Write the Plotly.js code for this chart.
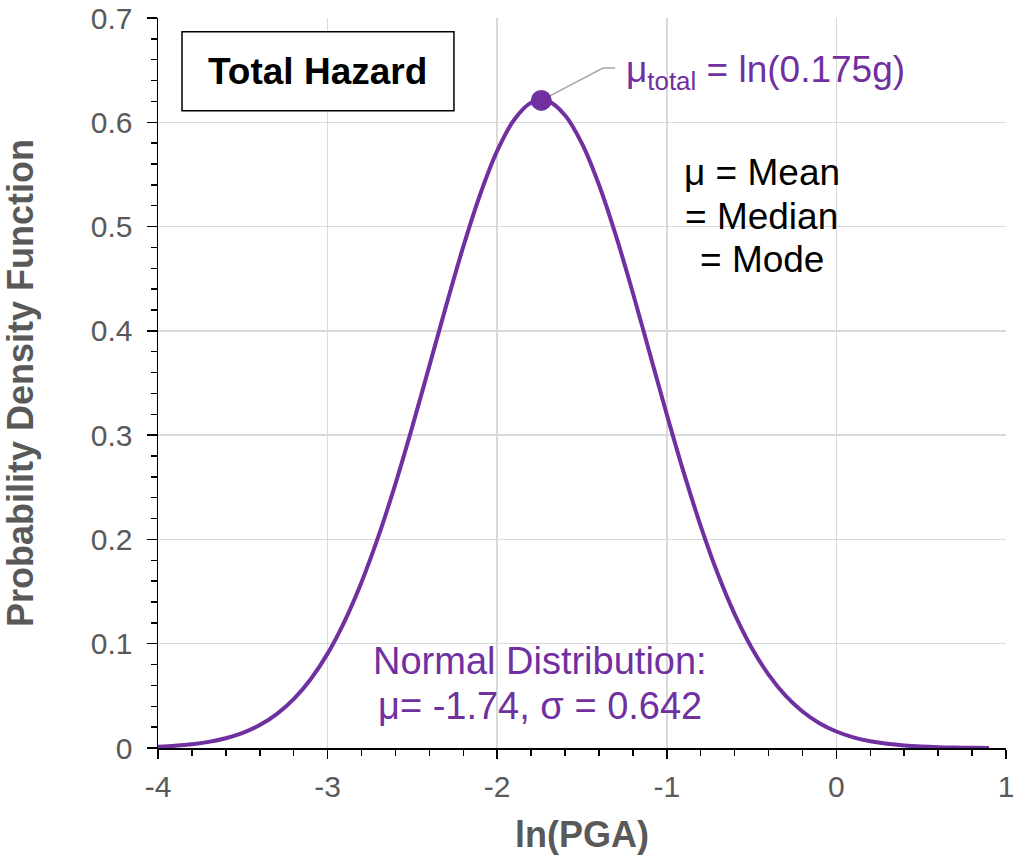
<!DOCTYPE html>
<html>
<head>
<meta charset="utf-8">
<script src="https://cdn.plot.ly/plotly-3.0.1.min.js"></script>
<style>html,body{margin:0;padding:0;background:#fff;}#chart{width:1018px;height:857px;}</style>
</head>
<body>
<div id="chart"></div>
<script>
// ln(PGA) values and PDF values
const lnPGA = [-4.0,-3.9,-3.8,-3.7,-3.6,-3.5,-3.4,-3.3,-3.2,-3.1,-3.0,-2.9,-2.8,-2.7,-2.6,-2.5,-2.4,-2.3,-2.2,-2.1,-2.0,-1.9,-1.8,-1.7,-1.6,-1.5,-1.4,-1.3,-1.2,-1.1,-1.0,-0.9,-0.8,-0.7,-0.6,-0.5,-0.4,-0.3,-0.2,-0.1,0.0,0.1,0.2,0.3,0.4,0.5,0.6,0.7,0.8,0.9];
const pdf = [0.0013,0.0022,0.0036,0.0059,0.0094,0.0145,0.0220,0.0325,0.0468,0.0659,0.0905,0.1215,0.1590,0.2031,0.2533,0.3084,0.3664,0.4247,0.4807,0.5310,0.5725,0.6024,0.6187,0.6202,0.6068,0.5795,0.5401,0.4913,0.4363,0.3781,0.3198,0.2640,0.2128,0.1673,0.1284,0.0962,0.0704,0.0502,0.0350,0.0238,0.0158,0.0102,0.0065,0.0040,0.0024,0.0014,0.0008,0.0005,0.0002,0.0001];
const meanX = [-1.74];
const meanY = [0.621];
const xTickVals = [-4,-3,-2,-1,0,1];
const xTickText = ["-4","-3","-2","-1","0","1"];
const yTickVals = [0,0.1,0.2,0.3,0.4,0.5,0.6,0.7];
const yTickText = ["0","0.1","0.2","0.3","0.4","0.5","0.6","0.7"];

const purple = '#7030A0';
const grey = '#595959';
const FONT = 'Arial, "Liberation Sans", sans-serif';

const traces = [
  {x: lnPGA, y: pdf, type: 'scatter', mode: 'lines', line: {color: purple, width: 4, shape: 'spline', smoothing: 1}, hoverinfo: 'skip'},
  {x: meanX, y: meanY, type: 'scatter', mode: 'markers', marker: {color: purple, size: 21}, hoverinfo: 'skip'}
];

const axisCommon = {
  showline: true, linecolor: '#000', linewidth: 1.5,
  ticks: 'outside', tickcolor: '#000', tickwidth: 1.5,
  gridcolor: '#d9d9d9', gridwidth: 1.5, zeroline: false,
  tickfont: {family: FONT, size: 30, color: grey}
};

const layout = {
  width: 1018, height: 857,
  margin: {l: 158, r: 12, t: 18, b: 109},
  paper_bgcolor: '#fff', plot_bgcolor: '#fff',
  showlegend: false,
  font: {family: FONT},
  xaxis: Object.assign({}, axisCommon, {
    range: [-4, 1], tickvals: xTickVals, ticktext: xTickText, ticklen: 9, ticklabelstandoff: 2,
    minor: {dtick: 0.2, ticks: 'outside', ticklen: 6, tickcolor: '#000', tickwidth: 1.5, showgrid: false},
    title: {text: '<b>ln(PGA)</b>', font: {family: FONT, size: 36, color: grey}, standoff: 20}
  }),
  yaxis: Object.assign({}, axisCommon, {
    range: [0, 0.7], tickvals: yTickVals, ticktext: yTickText, ticklen: 10, ticklabelstandoff: 8,
    minor: {dtick: 0.02, ticks: 'outside', ticklen: 6, tickcolor: '#000', tickwidth: 1.5, showgrid: false},
    title: {text: '<b>Probability Density Function</b>', font: {family: FONT, size: 36, color: grey}, standoff: 46}
  }),
  shapes: [
    {type: 'rect', xref: 'paper', yref: 'paper', x0: 0.0283, x1: 0.349, y0: 0.873, y1: 0.981,
     line: {color: '#000', width: 1.5}, fillcolor: '#fff', layer: 'above'},
    {type: 'path', xref: 'x', yref: 'y', path: 'M -1.74 0.621 L -1.376 0.652 L -1.305 0.652',
     line: {color: '#A6A6A6', width: 1.5}, layer: 'below'}
  ],
  annotations: [
    {xref: 'paper', yref: 'paper', x: 0.1886, y: 0.927, text: '<b>Total Hazard</b>', showarrow: false,
     font: {family: FONT, size: 37, color: '#000'}, xanchor: 'center', yanchor: 'middle'},
    {xref: 'x', yref: 'y', x: -1.25, y: 0.648, text: 'μ<sub>total</sub> = ln(0.175g)', showarrow: false,
     font: {family: FONT, size: 37, color: purple}, xanchor: 'left', yanchor: 'middle'},
    {xref: 'x', yref: 'y', x: -0.44, y: 0.552, text: 'μ = Mean', showarrow: false,
     font: {family: FONT, size: 37, color: '#000'}, xanchor: 'center', yanchor: 'middle'},
    {xref: 'x', yref: 'y', x: -0.44, y: 0.510, text: '= Median', showarrow: false,
     font: {family: FONT, size: 37, color: '#000'}, xanchor: 'center', yanchor: 'middle'},
    {xref: 'x', yref: 'y', x: -0.44, y: 0.468, text: '= Mode', showarrow: false,
     font: {family: FONT, size: 37, color: '#000'}, xanchor: 'center', yanchor: 'middle'},
    {xref: 'x', yref: 'y', x: -1.75, y: 0.0834, text: 'Normal Distribution:', showarrow: false,
     font: {family: FONT, size: 38, color: purple}, xanchor: 'center', yanchor: 'middle'},
    {xref: 'x', yref: 'y', x: -1.75, y: 0.0403, text: 'μ= -1.74, σ = 0.642', showarrow: false,
     font: {family: FONT, size: 38, color: purple}, xanchor: 'center', yanchor: 'middle'}
  ]
};

Plotly.newPlot('chart', traces, layout, {displayModeBar: false, staticPlot: true});
</script>
</body>
</html>
